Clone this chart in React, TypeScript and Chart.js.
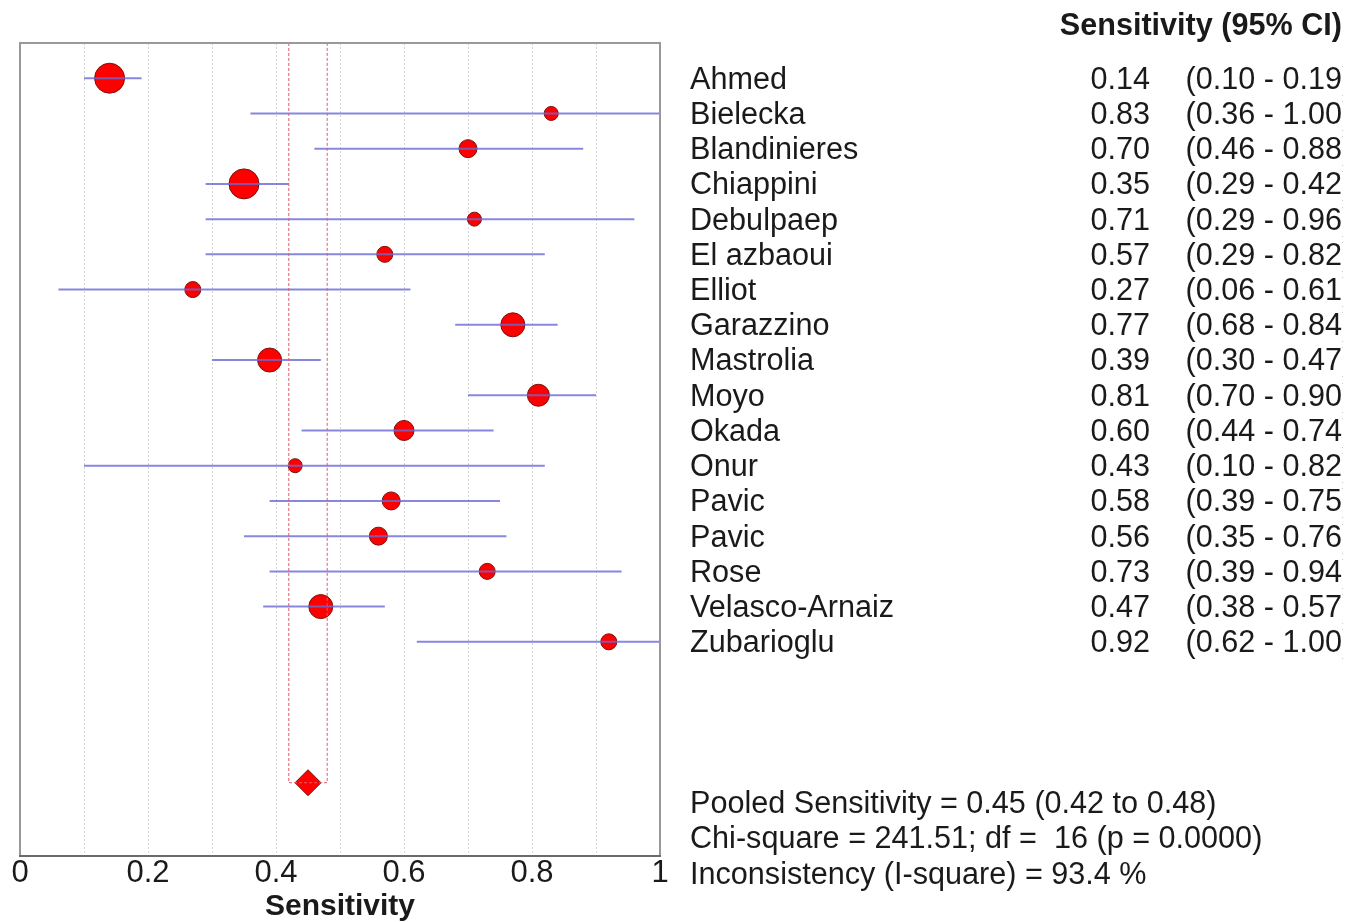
import React, { useEffect, useRef } from 'react';
import { Chart, registerables } from 'chart.js';

Chart.register(...registerables);

const studies = [
  'Ahmed', 'Bielecka', 'Blandinieres', 'Chiappini', 'Debulpaep', 'El azbaoui', 'Elliot',
  'Garazzino', 'Mastrolia', 'Moyo', 'Okada', 'Onur', 'Pavic', 'Pavic', 'Rose',
  'Velasco-Arnaiz', 'Zubarioglu',
];
const sensitivity = [0.14, 0.83, 0.70, 0.35, 0.71, 0.57, 0.27, 0.77, 0.39, 0.81, 0.60, 0.43, 0.58, 0.56, 0.73, 0.47, 0.92];
const ciLower = [0.10, 0.36, 0.46, 0.29, 0.29, 0.29, 0.06, 0.68, 0.30, 0.70, 0.44, 0.10, 0.39, 0.35, 0.39, 0.38, 0.62];
const ciUpper = [0.19, 1.00, 0.88, 0.42, 0.96, 0.82, 0.61, 0.84, 0.47, 0.90, 0.74, 0.82, 0.75, 0.76, 0.94, 0.57, 1.00];
// relative study weight (shown as marker size)
const studyWeight = [15, 7, 9, 15, 7, 8, 8, 12, 12, 11, 10, 7, 9, 9, 8, 12, 8];

const pooledSensitivity = 0.45;
const pooledLower = 0.42;
const pooledUpper = 0.48;
const statsLines = [
  'Pooled Sensitivity = 0.45 (0.42 to 0.48)',
  'Chi-square = 241.51; df =  16 (p = 0.0000)',
  'Inconsistency (I-square) = 93.4 %',
];
const headerText = 'Sensitivity (95% CI)';
const xAxisTitle = 'Sensitivity';

const POOLED_ROW = 20;
const Y_MIN = -1;
const Y_MAX = 22.08;
const FONT = '"Liberation Sans", Arial, sans-serif';
const TEXT_SIZE = 30.6;

const fmt = (v: number) => v.toFixed(2);

const frameAndTextPlugin = {
  id: 'frameAndText',
  afterDraw(chart: any) {
    const { ctx, chartArea, scales } = chart;
    const y = scales.y;
    ctx.save();
    // frame
    ctx.strokeStyle = '#999999';
    ctx.lineWidth = 2;
    ctx.beginPath();
    ctx.moveTo(chartArea.left, chartArea.bottom);
    ctx.lineTo(chartArea.left, chartArea.top);
    ctx.lineTo(chartArea.right, chartArea.top);
    ctx.lineTo(chartArea.right, chartArea.bottom);
    ctx.stroke();
    ctx.strokeStyle = '#6a6a6a';
    ctx.beginPath();
    ctx.moveTo(chartArea.left - 1, chartArea.bottom);
    ctx.lineTo(chartArea.right + 1, chartArea.bottom);
    ctx.stroke();

    // right-hand text (the source image is cropped just right of the CI column)
    ctx.beginPath();
    ctx.rect(0, 0, 1342.5, chart.height);
    ctx.clip();
    ctx.fillStyle = '#1a1a1a';
    ctx.textBaseline = 'middle';
    ctx.font = `bold ${TEXT_SIZE}px ${FONT}`;
    ctx.textAlign = 'right';
    ctx.fillText(headerText, 1342, 27);
    ctx.font = `${TEXT_SIZE}px ${FONT}`;
    studies.forEach((name, i) => {
      const py = y.getPixelForValue(i) + 2;
      ctx.textAlign = 'left';
      ctx.fillText(name, 690, py);
      ctx.textAlign = 'right';
      ctx.fillText(fmt(sensitivity[i]), 1150, py);
      const ciText = `(${fmt(ciLower[i])} - ${fmt(ciUpper[i])})`;
      const closeW = ctx.measureText(')').width;
      ctx.fillText(ciText, 1342 + closeW, py);
    });
    ctx.textAlign = 'left';
    statsLines.forEach((line, k) => {
      ctx.fillText(line, 690, y.getPixelForValue(POOLED_ROW + 0.55 + k * 1.02) + 2);
    });
    ctx.restore();
  },
};

export default function App() {
  const ref = useRef<HTMLCanvasElement | null>(null);

  useEffect(() => {
    if (!ref.current) return;
    const errorBarSets = studies.map((s, i) => ({
      type: 'line' as const,
      label: `${s} CI`,
      data: [
        { x: ciLower[i], y: i },
        { x: ciUpper[i], y: i },
      ],
      borderColor: 'rgba(105,105,215,0.8)',
      borderWidth: 2,
      pointRadius: 0,
      fill: false,
      order: 2,
    }));

    const chart = new Chart(ref.current, {
      type: 'scatter',
      data: {
        datasets: [
          {
            type: 'scatter',
            label: 'Sensitivity',
            data: sensitivity.map((v, i) => ({ x: v, y: i })),
            backgroundColor: '#ff0000',
            borderColor: '#7a1010',
            borderWidth: 1,
            pointRadius: studyWeight,
            pointHoverRadius: studyWeight,
            order: 4,
          },
          {
            type: 'scatter',
            label: 'Pooled',
            data: [{ x: pooledSensitivity, y: POOLED_ROW }],
            pointStyle: 'rectRot',
            backgroundColor: '#ff0000',
            borderColor: '#7a1010',
            borderWidth: 1,
            pointRadius: 13,
            order: 3,
          },
          ...errorBarSets,
          {
            type: 'line',
            label: 'Pooled CI',
            data: [
              { x: pooledLower, y: Y_MIN },
              { x: pooledLower, y: POOLED_ROW },
              { x: pooledUpper, y: POOLED_ROW },
              { x: pooledUpper, y: Y_MIN },
            ],
            borderColor: '#e05a6a',
            borderWidth: 1,
            borderDash: [3, 2],
            pointRadius: 0,
            fill: false,
            order: 1,
          },
        ] as any,
      },
      options: {
        responsive: false,
        animation: false,
        layout: { padding: { left: 20, right: 702, top: 43, bottom: 0 } },
        plugins: { legend: { display: false }, tooltip: { enabled: false } },
        scales: {
          x: {
            type: 'linear',
            min: 0,
            max: 1,
            grid: {
              color: (c: any) => (c.tick && (c.tick.value <= 0.001 || c.tick.value >= 0.999) ? 'rgba(0,0,0,0)' : '#d4d4d8'),
              lineWidth: 1,
              drawTicks: false,
            },
            border: { display: false, dash: [2, 2] },
            ticks: {
              stepSize: 0.1,
              autoSkip: false,
              maxRotation: 0,
              padding: 2,
              color: '#1a1a1a',
              font: { family: FONT, size: 31, lineHeight: 1.0 },
              callback: (v: any, i: number) => (i % 2 === 0 ? String(+Number(v).toFixed(1)) : ''),
            },
            title: {
              display: true,
              text: xAxisTitle,
              color: '#1a1a1a',
              font: { family: FONT, size: 30, weight: 'bold', lineHeight: 1.0 },
              padding: { top: 1, bottom: 0 },
            },
          },
          y: {
            type: 'linear',
            display: false,
            reverse: true,
            min: Y_MIN,
            max: Y_MAX,
          },
        },
      },
      plugins: [frameAndTextPlugin],
    });
    return () => chart.destroy();
  }, []);

  return (
    <div style={{ position: 'fixed', left: 0, top: 0, width: 1362, height: 922, background: '#fff' }}>
      <canvas ref={ref} width={1362} height={922} style={{ width: 1362, height: 922 }} />
    </div>
  );
}
